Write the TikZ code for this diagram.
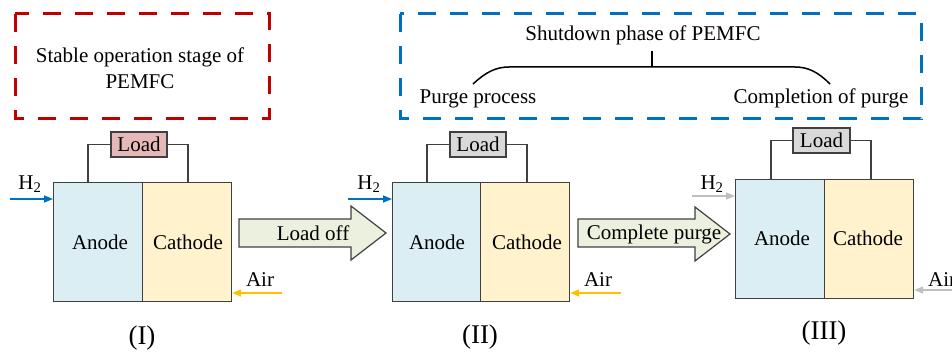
\documentclass[tikz,border=0pt]{standalone}
\usepackage{fontspec}
\setmainfont{Liberation Serif}
\usetikzlibrary{arrows.meta}
\definecolor{anodec}{HTML}{DAEEF3}
\definecolor{cathc}{HTML}{FFF2CC}
\definecolor{loadred}{HTML}{E6B9B8}
\definecolor{loadgrey}{HTML}{D9D9D9}
\definecolor{arrowgreen}{HTML}{EBF1DE}
\definecolor{myblue}{HTML}{0070C0}
\definecolor{myred}{HTML}{C00000}
\definecolor{myyellow}{HTML}{FFC000}
\definecolor{mygrey}{HTML}{BFBFBF}
\definecolor{edge}{HTML}{404040}
\begin{document}
\begin{tikzpicture}[x=1pt,y=-1pt,
  every node/.style={font=\fontsize{21}{26}\selectfont, inner sep=0pt},
  cellbox/.style={draw=edge, line width=1.2pt, anchor=north west, minimum width=89pt, minimum height=119pt},
  anode/.style={cellbox, fill=anodec},
  cathode/.style={cellbox, fill=cathc},
  loadbox/.style={draw=edge, line width=1.2pt, minimum width=56pt, minimum height=25pt},
  wire/.style={draw=edge, line width=1.2pt},
  gasarrow/.style={line width=1.6pt, -{Triangle[length=9pt,width=7pt]}},
  blockarrow/.style={draw=edge, line width=1.2pt, fill=arrowgreen, line join=miter},
  roman/.style={font=\fontsize{27}{32}\selectfont},
  dashbox/.style={line width=3pt, dash pattern=on 18pt off 14pt}
]
\useasboundingbox (0,0) rectangle (952,352);

% ---- top boxes
\draw[dashbox, draw=myred] (15,14) rectangle (269,119);
\node[align=center] (stable) at (140,68) {Stable operation stage of\\PEMFC};

\draw[dashbox, draw=myblue] (400,14) rectangle (921,119);
\node (shut) at (643,35) {Shutdown phase of PEMFC};
\node (purge) at (478,99) {Purge process};
\node (compl) at (821,98) {Completion of purge};
\coordinate (bl) at (473,84);
\coordinate (br) at (830,84);
\coordinate (bm) at (652,67);
\draw[line width=1.5pt] (bl) .. controls (486,72) and (496,67) .. (509,67) -- (795,67) .. controls (808,67) and (818,72) .. (br);
\draw[line width=1.5pt] (652,51) -- (bm);

% ---- cell I
\node[anode] (a1) at (53,182) {};
\node[cathode] (c1) at (142,182) {};
\node at (100,242) {Anode};
\node at (188,242) {Cathode};
\node[loadbox, fill=loadred] (l1) at (139,144.5) {Load};
\draw[wire] (a1.north -| 88,0) |- (l1.west);
\draw[wire] (c1.north -| 188,0) |- (l1.east);
\coordinate (h1) at (10,199);
\draw[gasarrow, myblue] (h1) -- (h1 -| a1.west);
\node (h1t) at (30,184) {H\textsubscript{2}};
\coordinate (r1) at (282,293);
\draw[gasarrow, myyellow] (r1) -- (r1 -| c1.east);
\node (r1t) at (260,280) {Air};
\node[roman] (n1) at (142,338) {(I)};

% ---- arrow I -> II
\draw[blockarrow] (239,219) -- (351,219) -- (351,206) -- (386,233) -- (351,260) -- (351,247) -- (239,247) -- cycle;
\node (loadoff) at (313,233) {Load off};

% ---- cell II
\node[anode, minimum width=88pt] (a2) at (392,182) {};
\node[cathode] (c2) at (480,182) {};
\node at (437,242) {Anode};
\node at (527,242) {Cathode};
\node[loadbox, fill=loadgrey] (l2) at (478,144.5) {Load};
\draw[wire] (a2.north -| 427,0) |- (l2.west);
\draw[wire] (c2.north -| 527,0) |- (l2.east);
\coordinate (h2) at (348,199);
\draw[gasarrow, myblue] (h2) -- (h2 -| a2.west);
\node (h2t) at (369,184) {H\textsubscript{2}};
\coordinate (r2) at (621,293);
\draw[gasarrow, myyellow] (r2) -- (r2 -| c2.east);
\node (r2t) at (598,280) {Air};
\node[roman] (n2) at (480,337) {(II)};

% ---- arrow II -> III
\draw[blockarrow] (578,219) -- (695,219) -- (695,207) -- (730,234) -- (695,261) -- (695,247) -- (578,247) -- cycle;
\node (cpurge) at (654,234) {Complete purge};

% ---- cell III
\node[anode] (a3) at (735,179) {};
\node[cathode] (c3) at (824,179) {};
\node at (782,238) {Anode};
\node at (868,238) {Cathode};
\node[loadbox, fill=loadgrey, minimum width=57pt] (l3) at (821.5,140.5) {Load};
\draw[wire] (a3.north -| 771,0) |- (l3.west);
\draw[wire] (c3.north -| 871,0) |- (l3.east);
\coordinate (h3) at (692,196);
\draw[gasarrow, mygrey] (h3) -- (h3 -| a3.west);
\node (h3t) at (712,184) {H\textsubscript{2}};
\coordinate (r3) at (960,290);
\draw[gasarrow, mygrey] (r3) -- (r3 -| c3.east);
\node[anchor=west] (r3t) at (928,280) {Air};
\node[roman] (n3) at (824,333) {(III)};
\end{tikzpicture}
\end{document}
